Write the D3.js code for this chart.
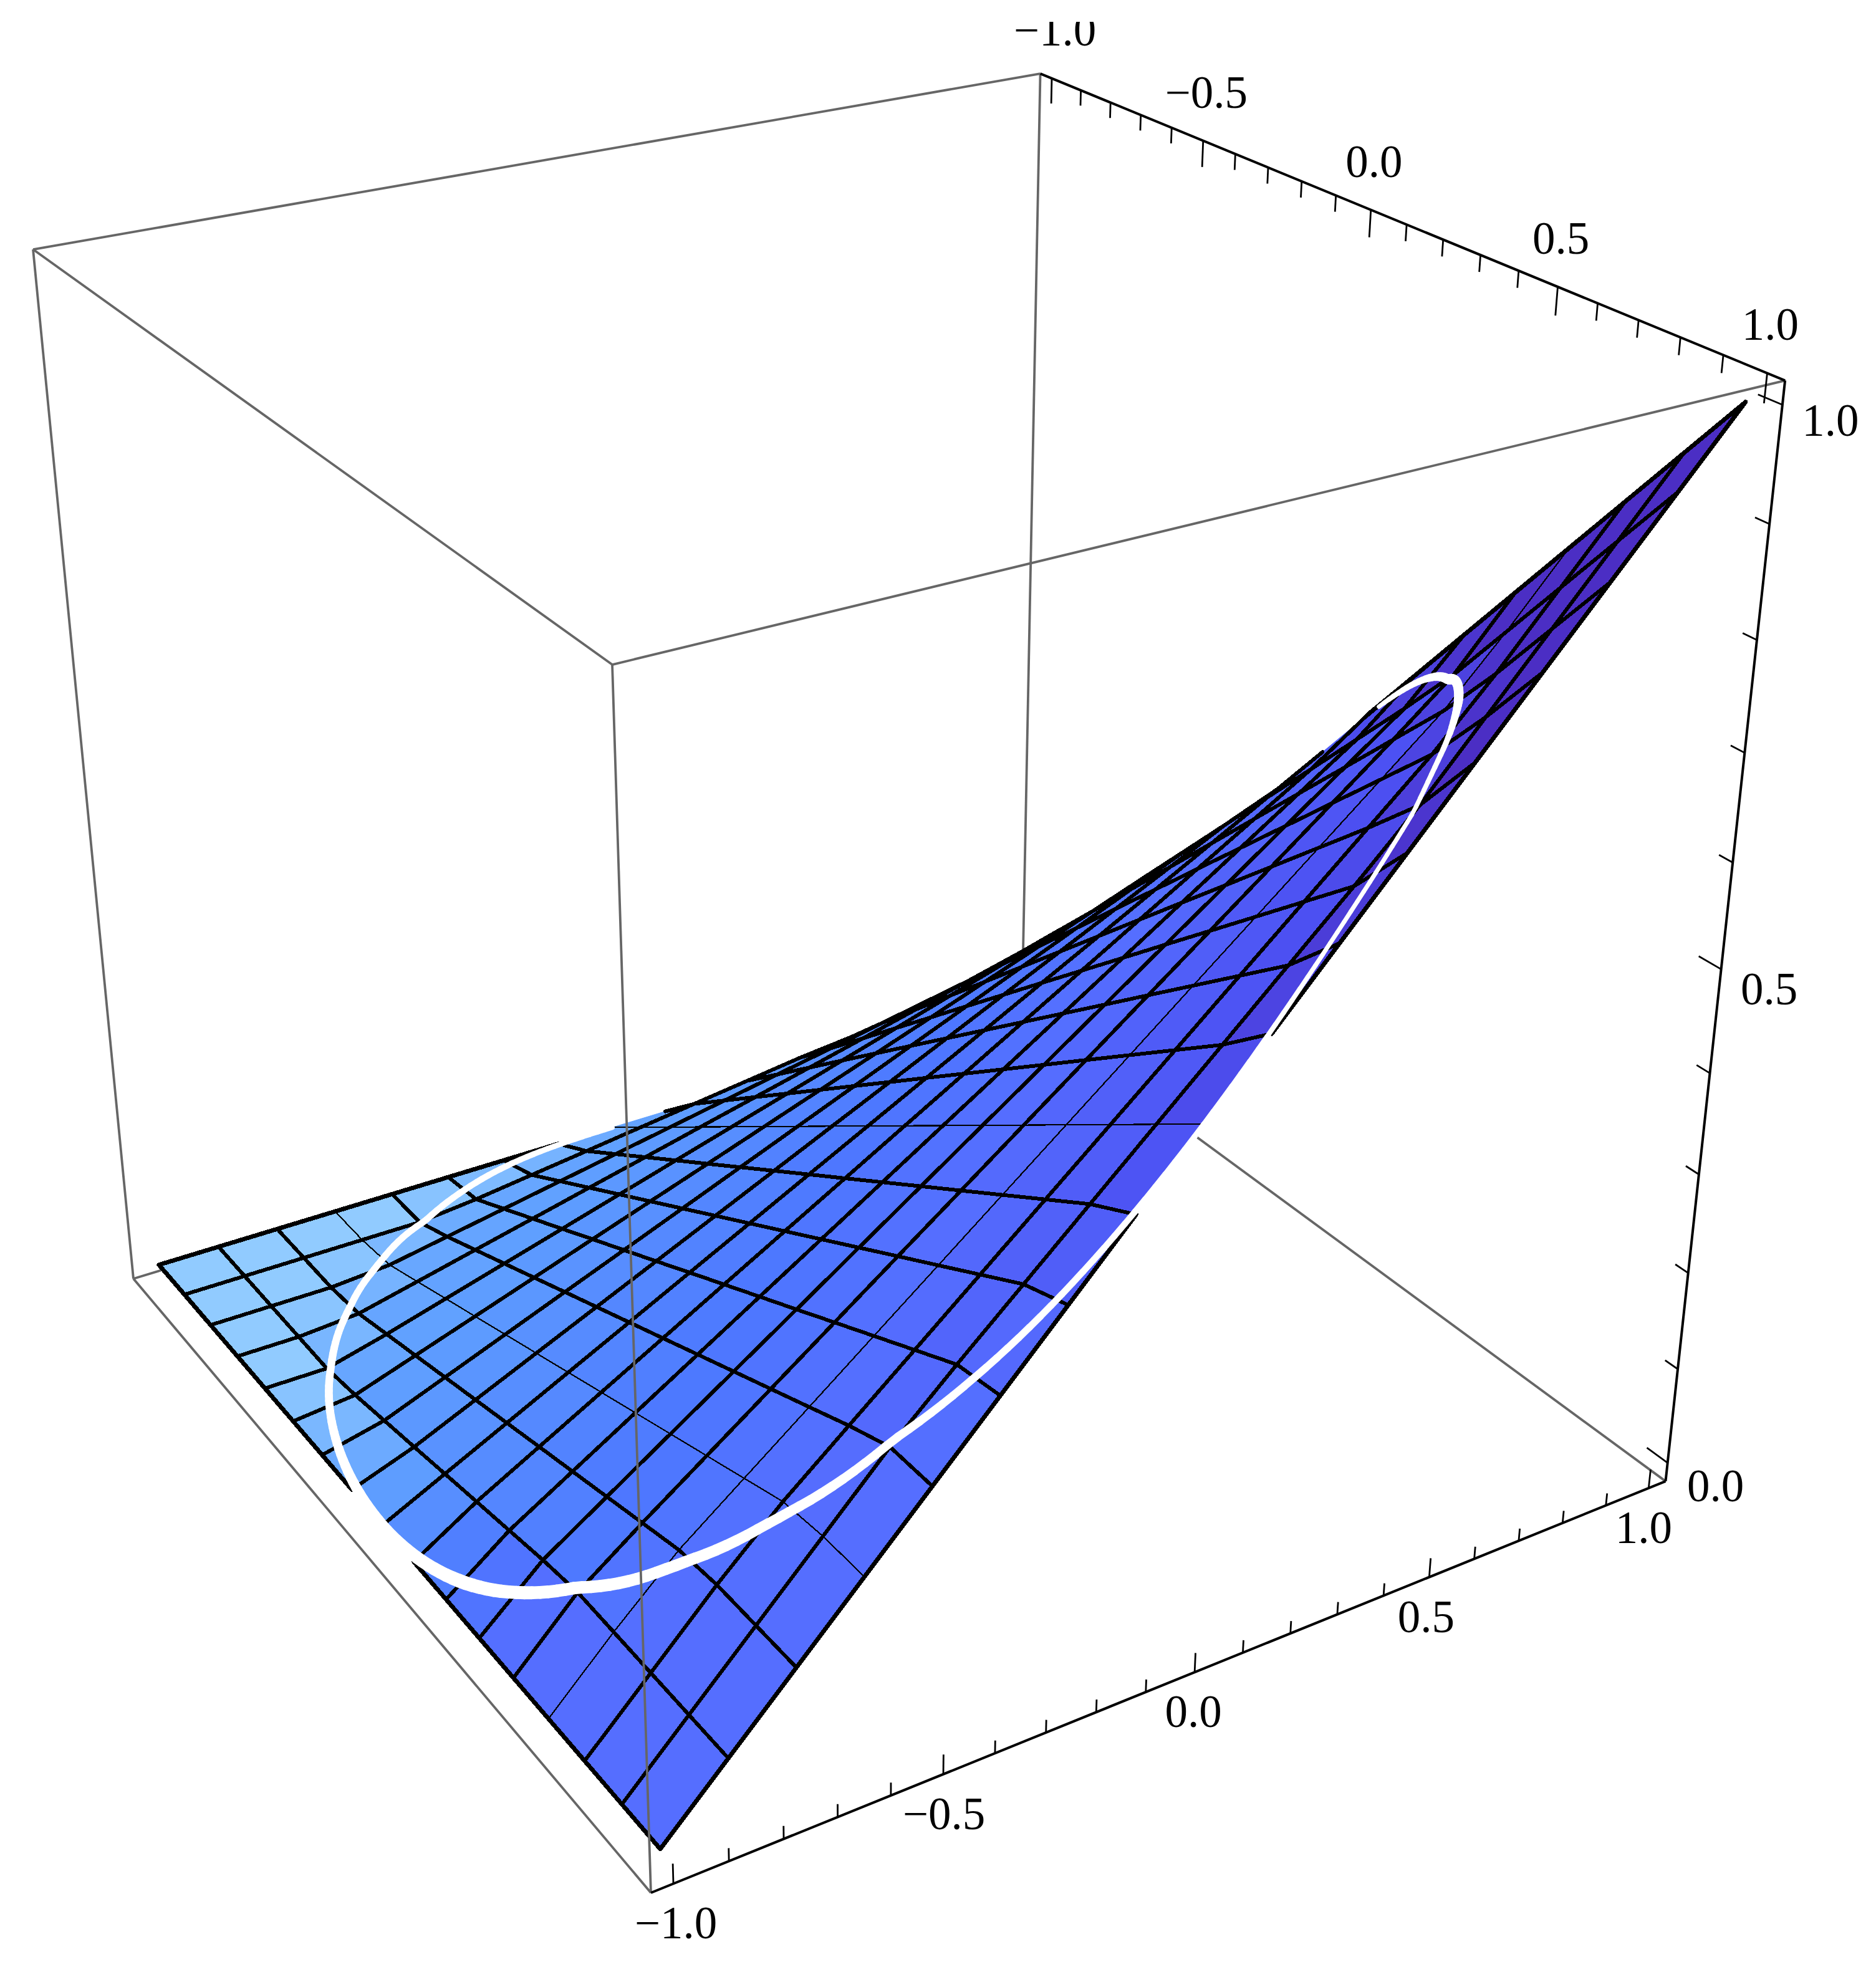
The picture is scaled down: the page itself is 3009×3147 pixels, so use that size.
<!DOCTYPE html>
<html>
<head>
<meta charset="utf-8">
<script src="https://cdn.jsdelivr.net/npm/d3@7"></script>
<style>
  html, body { margin: 0; padding: 0; background: #fff; }
  svg { display: block; }
  text { font-family: "Liberation Serif", serif; font-size: 73px; fill: #000; text-anchor: middle; }
</style>
</head>
<body>
<div id="container"></div>
<script>
/* CONSTANTS AND GLOBALS */
const width = 3009, height = 3147;

/* DATA */
// mesh positions, the same on both horizontal axes
const meshValues = [-1, -0.875, -0.75, -0.625, -0.5, -0.375, -0.25, -0.125, 0, 0.125, 0.25, 0.375, 0.5, 0.625, 0.75, 0.875, 1];
// surface height read at each mesh node, rows are x, columns are y
const zTable = [
  [0, 0, 0, 0, 0, 0, 0, 0, 0, 0, 0, 0, 0, 0, 0, 0, 0],
  [0, 0, 0, 0, 0, 0.0064, 0.0147, 0.0229, 0.0313, 0.0396, 0.0478, 0.0561, 0.0625, 0.0625, 0.0625, 0.0625, 0.0625],
  [0, 0, 0, 0.0047, 0.0163, 0.0278, 0.0394, 0.0509, 0.0625, 0.0741, 0.0856, 0.0972, 0.1088, 0.1203, 0.125, 0.125, 0.125],
  [0, 0, 0.0047, 0.0195, 0.0344, 0.0492, 0.0641, 0.0789, 0.0938, 0.1086, 0.1234, 0.1383, 0.1531, 0.168, 0.1828, 0.1875, 0.1875],
  [0, 0, 0.0163, 0.0344, 0.0525, 0.0706, 0.0888, 0.1069, 0.125, 0.1431, 0.1613, 0.1794, 0.1975, 0.2156, 0.2338, 0.25, 0.25],
  [0, 0.0064, 0.0278, 0.0492, 0.0706, 0.0921, 0.1134, 0.1348, 0.1563, 0.1777, 0.1991, 0.2204, 0.2419, 0.2633, 0.2847, 0.3061, 0.3125],
  [0, 0.0147, 0.0394, 0.0641, 0.0888, 0.1134, 0.1381, 0.1628, 0.1875, 0.2122, 0.2369, 0.2616, 0.2863, 0.3109, 0.3356, 0.3603, 0.375],
  [0, 0.0229, 0.0509, 0.0789, 0.1069, 0.1348, 0.1628, 0.1908, 0.2188, 0.2467, 0.2747, 0.3027, 0.3306, 0.3586, 0.3866, 0.4146, 0.4375],
  [0, 0.0313, 0.0625, 0.0938, 0.125, 0.1563, 0.1875, 0.2188, 0.25, 0.2813, 0.3125, 0.3438, 0.375, 0.4063, 0.4375, 0.4688, 0.5],
  [0, 0.0396, 0.0741, 0.1086, 0.1431, 0.1777, 0.2122, 0.2467, 0.2813, 0.3158, 0.3503, 0.3848, 0.4194, 0.4539, 0.4884, 0.5229, 0.5625],
  [0, 0.0478, 0.0856, 0.1234, 0.1613, 0.1991, 0.2369, 0.2747, 0.3125, 0.3503, 0.3881, 0.4259, 0.4638, 0.5016, 0.5394, 0.5772, 0.625],
  [0, 0.0561, 0.0972, 0.1383, 0.1794, 0.2204, 0.2616, 0.3027, 0.3438, 0.3848, 0.4259, 0.4671, 0.5081, 0.5492, 0.5903, 0.6314, 0.6875],
  [0, 0.0625, 0.1088, 0.1531, 0.1975, 0.2419, 0.2863, 0.3306, 0.375, 0.4194, 0.4638, 0.5081, 0.5525, 0.5969, 0.6413, 0.6875, 0.75],
  [0, 0.0625, 0.1203, 0.168, 0.2156, 0.2633, 0.3109, 0.3586, 0.4063, 0.4539, 0.5016, 0.5492, 0.5969, 0.6445, 0.6922, 0.75, 0.8125],
  [0, 0.0625, 0.125, 0.1828, 0.2338, 0.2847, 0.3356, 0.3866, 0.4375, 0.4884, 0.5394, 0.5903, 0.6413, 0.6922, 0.75, 0.8125, 0.875],
  [0, 0.0625, 0.125, 0.1875, 0.25, 0.3061, 0.3603, 0.4146, 0.4688, 0.5229, 0.5772, 0.6314, 0.6875, 0.75, 0.8125, 0.875, 0.9375],
  [0, 0.0625, 0.125, 0.1875, 0.25, 0.3125, 0.375, 0.4375, 0.5, 0.5625, 0.625, 0.6875, 0.75, 0.8125, 0.875, 0.9375, 1]
];
// mesh lines that show up hairline thin in the picture
const thinX = [-0.625, 0];
const thinY = [0.625];
// white curve: stroke width seen at each angle round the unit circle (degrees)
const curveAngles = [10, 20, 30, 40, 50, 60, 75, 90, 105, 120, 135, 150, 165, 180, 200, 225, 250, 270];
const curveWidths = [7, 11, 17, 15, 9, 7, 7, 9, 11, 14, 18, 20, 22, 18, 13, 11, 10, 8];
// tick labels
const labelValues = [-1, -0.5, 0, 0.5, 1];
const labelTexts = ["\u22121.0", "\u22120.5", "0.0", "0.5", "1.0"];
const zLabelValues = [0, 0.5, 1];
const zLabelTexts = ["0.0", "0.5", "1.0"];
// weighted slope of a cell -> colour
const slopeStops = [0, 0.3, 0.52, 0.65, 0.8, 1.05];
const slopeColors = ["#91cbff", "#5f9fff", "#4d78ff", "#556eff", "#4c50f2", "#4b2ec4"];

/* SCALES */
const boxMinXY = -1.04, boxMaxXY = 1.04, boxMinZ = -0.02, boxMaxZ = 1.02;
const xNorm = d3.scaleLinear().domain([boxMinXY, boxMaxXY]).range([0, 1]);
const yNorm = d3.scaleLinear().domain([boxMinXY, boxMaxXY]).range([0, 1]);
const zNorm = d3.scaleLinear().domain([boxMinZ, boxMaxZ]).range([0, 1]);
const colorScale = d3.scaleLinear().domain(slopeStops).range(slopeColors).clamp(true);
const curveWidthScale = d3.scaleLinear().domain(curveAngles).range(curveWidths);

// perspective camera fitted to the box corners
function depth(x, y, z) {
  return 1 + 0.1233 * xNorm(x) - 0.20252 * yNorm(y) - 0.12008 * zNorm(z);
}
function project(x, y, z) {
  const X = xNorm(x), Y = yNorm(y), Z = zNorm(z), w = depth(x, y, z);
  return [
    (214 + 1627.3 * X + 618.57 * Y - 167.36 * Z) / w,
    (2051 - 233.5 * X + 370.15 * Y - 1699 * Z) / w
  ];
}
const node = (i, j) => project(meshValues[i], meshValues[j], zTable[i][j]);

// surface height anywhere, from the table
function zAt(x, y) {
  const step = meshValues[1] - meshValues[0];
  const fi = Math.min((x - meshValues[0]) / step, meshValues.length - 1.001);
  const fj = Math.min((y - meshValues[0]) / step, meshValues.length - 1.001);
  const i = Math.floor(fi), j = Math.floor(fj), a = fi - i, b = fj - j;
  return (1 - a) * (1 - b) * zTable[i][j] + a * (1 - b) * zTable[i + 1][j]
    + (1 - a) * b * zTable[i][j + 1] + a * b * zTable[i + 1][j + 1];
}

/* HTML ELEMENTS */
const svg = d3.select("#container").append("svg")
  .attr("width", width).attr("height", height)
  .style("background-color", "#fff");

svg.append("clipPath").attr("id", "pageTop")
  .append("rect").attr("x", 0).attr("y", 35).attr("width", width).attr("height", height);

const line = d3.line();
const grey = "#666";

function boxEdge(a, b) {
  svg.append("path").attr("d", line([project(...a), project(...b)]))
    .attr("stroke", grey).attr("stroke-width", 3.8).attr("fill", "none");
}
const lo = boxMinXY, hi = boxMaxXY, zLo = boxMinZ, zHi = boxMaxZ;

// box edges behind the surface
boxEdge([lo, lo, zLo], [hi, lo, zLo]);
boxEdge([hi, lo, zLo], [hi, hi, zLo]);
boxEdge([hi, lo, zLo], [hi, lo, zHi]);

// surface cells, only the ones facing us
const n = meshValues.length - 1;
const cells = [];
for (let i = 0; i < n; i++) {
  for (let j = 0; j < n; j++) {
    const pts = [node(i, j), node(i + 1, j), node(i + 1, j + 1), node(i, j + 1)];
    const area = d3.polygonArea(pts);
    const step = meshValues[i + 1] - meshValues[i];
    const dzx = (zTable[i + 1][j] + zTable[i + 1][j + 1] - zTable[i][j] - zTable[i][j + 1]) / (2 * step);
    const dzy = (zTable[i][j + 1] + zTable[i + 1][j + 1] - zTable[i][j] - zTable[i + 1][j]) / (2 * step);
    cells.push({ i, j, pts, area, slope: 1.3 * dzx + 0.8 * dzy, far: depth(meshValues[i], meshValues[j], zTable[i][j]) });
  }
}
const facing = Math.sign(cells[0].area);
const visible = cells.filter(c => Math.sign(c.area) === facing).sort((a, b) => b.far - a.far);

svg.append("g").selectAll("path").data(visible).join("path")
  .attr("d", d => line(d.pts) + "Z")
  .attr("fill", d => colorScale(d.slope))
  .attr("stroke", d => colorScale(d.slope))
  .attr("stroke-width", 1);

// mesh lines
const segments = new Map();
function addSegment(i1, j1, i2, j2) {
  segments.set([i1, j1, i2, j2].join(), { i1, j1, i2, j2 });
}
visible.forEach(({ i, j }) => {
  addSegment(i, j, i + 1, j);
  addSegment(i, j + 1, i + 1, j + 1);
  addSegment(i, j, i, j + 1);
  addSegment(i + 1, j, i + 1, j + 1);
});
function isBorder(s) {
  const alongX = s.j1 === s.j2;
  const fixed = alongX ? s.j1 : s.i1;
  return fixed === 0 || fixed === n;
}
function isBorderGap(s) {
  // black border stops where the white curve runs along it
  const alongX = s.j1 === s.j2;
  const start = alongX ? s.i1 : s.j1;
  return isBorder(s) && start >= 7 && start < 9;
}
function segmentWidth(s) {
  if (isBorder(s)) return 7;
  const alongX = s.j1 === s.j2;
  const value = meshValues[alongX ? s.j1 : s.i1];
  if (alongX ? thinY.includes(value) : thinX.includes(value)) return 2.2;
  return 6;
}
svg.append("g").selectAll("path")
  .data([...segments.values()].filter(s => !isBorderGap(s)))
  .join("path")
  .attr("d", s => line([node(s.i1, s.j1), node(s.i2, s.j2)]))
  .attr("stroke", "#000")
  .attr("stroke-linecap", "round")
  .attr("shape-rendering", "crispEdges")
  .attr("fill", "none")
  .attr("stroke-width", segmentWidth);

// white curve on the surface
const curveSteps = d3.range(curveAngles[0], curveAngles[curveAngles.length - 1], 1);
svg.append("g").selectAll("path").data(curveSteps).join("path")
  .attr("d", a => {
    const p = t => {
      const x = Math.cos(t * Math.PI / 180), y = Math.sin(t * Math.PI / 180);
      return project(x, y, zAt(x, y));
    };
    return line([p(a), p(a + 1)]);
  })
  .attr("stroke", "#fff")
  .attr("stroke-linecap", "round")
  .attr("fill", "none")
  .attr("stroke-width", a => curveWidthScale(a));

// box edges in front
boxEdge([lo, lo, zLo], [lo, lo, zHi]);
boxEdge([lo, hi, zLo], [lo, hi, zHi]);
boxEdge([lo, lo, zLo], [lo, hi, zLo]);
boxEdge([lo, lo, zHi], [lo, hi, zHi]);
boxEdge([lo, lo, zHi], [hi, lo, zHi]);
boxEdge([lo, hi, zHi], [hi, hi, zHi]);

/* AXES */
function axisLine(a, b) {
  svg.append("path").attr("d", line([project(...a), project(...b)]))
    .attr("stroke", "#000").attr("stroke-width", 4).attr("fill", "none");
}
function tick(a, b) {
  svg.append("path").attr("d", line([project(...a), project(...b)]))
    .attr("stroke", "#000").attr("stroke-width", 2.8).attr("fill", "none");
}
const isMajor = t => Math.abs(t * 2 - Math.round(t * 2)) < 1e-6;
const hTicks = d3.scaleLinear().domain([-1, 1]).ticks(20);
const zTicks = d3.scaleLinear().domain([0, 1]).ticks(10);

axisLine([lo, hi, zLo], [hi, hi, zLo]);
axisLine([hi, hi, zLo], [hi, hi, zHi]);
axisLine([hi, lo, zHi], [hi, hi, zHi]);

hTicks.forEach(t => {
  tick([t, hi, zLo], [t, hi, zLo + (isMajor(t) ? 0.02 : 0.013)]);
  tick([hi, t, zHi], [hi, t, zHi - (isMajor(t) ? 0.025 : 0.015)]);
});
zTicks.forEach(t => {
  tick([hi, hi, t], [hi, hi - (isMajor(t) ? 0.055 : 0.033), t]);
});

const labels = svg.append("g").attr("clip-path", "url(#pageTop)");
labelValues.forEach((v, k) => {
  const b = project(v, hi, zLo);
  labels.append("text").attr("x", b[0] + 4 - 6 * (v + 1)).attr("y", b[1] + 88).text(labelTexts[k]);
  const t = project(hi, v, zHi);
  labels.append("text").attr("x", t[0] + 5).attr("y", t[1] - 53).text(labelTexts[k]);
});
zLabelValues.forEach((v, k) => {
  const p = project(hi, hi, v);
  labels.append("text").attr("x", p[0] + 77).attr("y", p[1] + 50 + (1 - v) * 12).text(zLabelTexts[k]);
});
</script>
</body>
</html>
